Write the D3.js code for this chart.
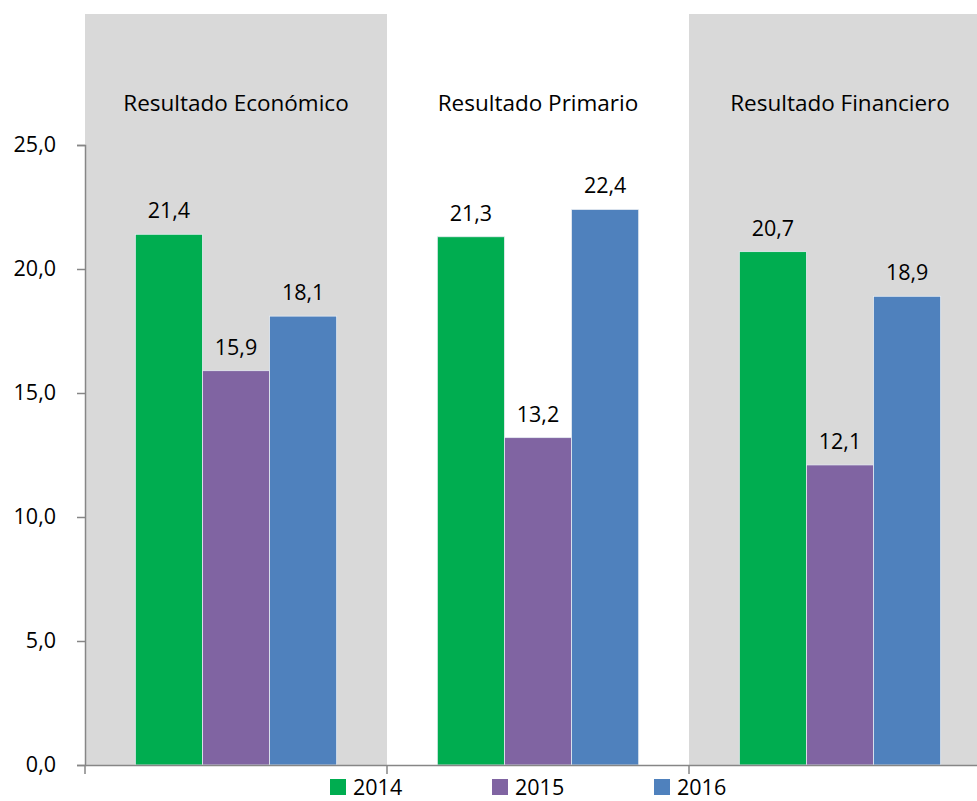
<!DOCTYPE html>
<html>
<head>
<meta charset="utf-8">
<script src="https://cdn.jsdelivr.net/npm/d3@7"></script>
<style>
  body { margin: 0; background: #fff; }
  svg { display: block; font-family: "Open Sans", sans-serif; }
</style>
</head>
<body>
<svg width="977" height="801"></svg>
<script>
const CATEGORIES = ["Resultado Económico", "Resultado Primario", "Resultado Financiero"];
const YEARS = ["2014", "2015", "2016"];
const V2014 = [21.4, 21.3, 20.7];
const V2015 = [15.9, 13.2, 12.1];
const V2016 = [18.1, 22.4, 18.9];
const Y_TICKS = [0, 5, 10, 15, 20, 25];
const COLORS = ["#00ad50", "#8064a2", "#4f81bd"];

const series = [V2014, V2015, V2016];
const rows = CATEGORIES.map((c, i) => ({ cat: c, values: YEARS.map((y, j) => ({ year: y, value: series[j][i] })) }));

const svg = d3.select("svg");
const x0 = 85, yBase = 765;
const FS = 21.5;

const xScale = d3.scaleBand().domain(CATEGORIES).range([x0, x0 + 906]);
const xInner = d3.scaleBand().domain(YEARS).range([0, xScale.bandwidth()]).paddingOuter(0.75).paddingInner(0);
const yScale = d3.scaleLinear().domain([0, 25]).range([yBase, 145]);
const fmt = d => d3.format(".1f")(d).replace(".", ",");

// shaded bands for 1st and 3rd category
svg.selectAll("rect.band")
  .data(CATEGORIES.filter((d, i) => i % 2 === 0))
  .enter().append("rect")
  .attr("x", d => xScale(d))
  .attr("y", 14)
  .attr("width", xScale.bandwidth())
  .attr("height", yBase - 14)
  .attr("fill", "#d9d9d9");

const groups = svg.selectAll("g.cat")
  .data(rows)
  .enter().append("g")
  .attr("transform", d => `translate(${xScale(d.cat)},0)`);

groups.append("text")
  .attr("x", xScale.bandwidth() / 2)
  .attr("y", 111)
  .attr("text-anchor", "middle")
  .attr("font-size", 22.5)
  .attr("fill", "#000")
  .text(d => d.cat);

groups.selectAll("rect")
  .data(d => d.values)
  .enter().append("rect")
  .attr("x", d => xInner(d.year))
  .attr("y", d => yScale(d.value))
  .attr("width", xInner.bandwidth())
  .attr("height", d => yBase - yScale(d.value))
  .attr("fill", (d, i) => COLORS[i])
  .attr("stroke", "#e6ecf2")
  .attr("stroke-width", 0.8);

groups.selectAll("text.val")
  .data(d => d.values)
  .enter().append("text")
  .attr("class", "val")
  .attr("x", d => xInner(d.year) + xInner.bandwidth() / 2)
  .attr("y", d => yScale(d.value) - 16)
  .attr("text-anchor", "middle")
  .attr("font-size", FS)
  .text(d => fmt(d.value));

// y axis
const yAxis = svg.append("g")
  .attr("transform", `translate(${x0},0)`)
  .call(d3.axisLeft(yScale).tickValues(Y_TICKS).tickFormat(fmt).tickSize(8).tickPadding(22));
yAxis.select(".domain").attr("stroke", "#868686").attr("stroke-width", 1.5);
yAxis.selectAll(".tick line").attr("stroke", "#868686").attr("stroke-width", 1.5);
yAxis.selectAll(".tick text").attr("font-size", FS).attr("fill", "#000").attr("font-family", "Open Sans, sans-serif")
  .attr("text-anchor", "end").attr("x", -29);

// x axis
const xAxis = svg.append("g")
  .attr("transform", `translate(0,${yBase})`)
  .call(d3.axisBottom(xScale).tickValues([]).tickSizeOuter(0));
xAxis.select(".domain").attr("stroke", "#868686").attr("stroke-width", 1.5);
xAxis.selectAll(".sep")
  .data(d3.range(CATEGORIES.length + 1).map(i => x0 + i * xScale.step()))
  .enter().append("line")
  .attr("x1", d => d).attr("x2", d => d)
  .attr("y1", 0).attr("y2", 9)
  .attr("stroke", "#868686").attr("stroke-width", 1.5);

// legend (nudged up a little so the labels are not cut at the bottom edge)
const legend = svg.append("g");
const legX = [330, 492, 654];
const li = legend.selectAll("g")
  .data(YEARS)
  .enter().append("g")
  .attr("transform", (d, i) => `translate(${legX[i]},779)`);
li.append("rect").attr("width", 16).attr("height", 16).attr("fill", (d, i) => COLORS[i]);
li.append("text").attr("x", 23).attr("y", 15.5).attr("font-size", FS).text(d => d);
</script>
</body>
</html>
